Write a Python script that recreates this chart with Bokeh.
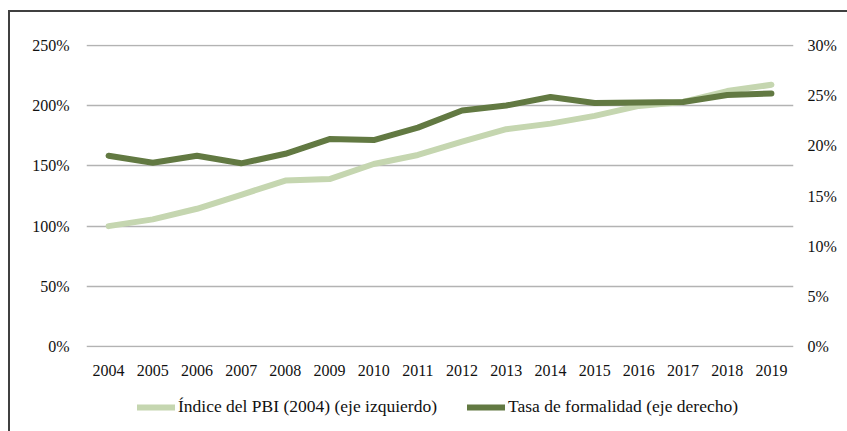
from bokeh.plotting import figure
from bokeh.layouts import column
from bokeh.models import (Range1d, LinearAxis, FixedTicker, PrintfTickFormatter,
                          ColumnDataSource, Legend, LegendItem, FactorRange)
from bokeh.embed import file_html
from bokeh.resources import INLINE

years = [str(y) for y in range(2004, 2020)]
pbi_index = [100, 105.6, 114.4, 126, 137.8, 139, 151.5, 159, 170, 180.4, 185,
             191.4, 199.7, 203, 212, 217.2]
formalidad = [19.0, 18.3, 19.0, 18.25, 19.2, 20.66, 20.56, 21.8, 23.5, 24.0,
              24.85, 24.26, 24.3, 24.36, 25.05, 25.2]
left_ticks = [0, 50, 100, 150, 200, 250]
right_ticks = [0, 5, 10, 15, 20, 25, 30]
label_pbi = "Índice del PBI (2004) (eje izquierdo)"
label_form = "Tasa de formalidad (eje derecho)"

src = ColumnDataSource(dict(year=years, pbi=pbi_index, form=formalidad))

FONT = "Liberation Serif"
LIGHT = "#c5d6b0"
DARK = "#627942"
PAD = 0.6  # small pad so the edge gridlines are not clipped

p = figure(width=837, height=375, x_range=FactorRange(*years, range_padding=0),
           y_range=Range1d(-PAD, 250 + PAD), output_backend="svg",
           toolbar_location=None,
           min_border_left=76, min_border_right=54, min_border_top=32,
           min_border_bottom=40)
p.outline_line_color = None
p.background_fill_color = "white"
p.border_fill_color = "white"

p.extra_y_ranges = {"right": Range1d(-PAD * 30 / 250, 30 + PAD * 30 / 250)}

ya = p.yaxis[0]
ya.ticker = FixedTicker(ticks=left_ticks)
ya.formatter = PrintfTickFormatter(format="%d%%")
xa = p.xaxis[0]
for ax in (ya, xa):
    ax.axis_line_color = None
    ax.major_tick_line_color = None
    ax.minor_tick_line_color = None
    ax.major_label_text_font = FONT
    ax.major_label_text_font_size = "16px"
    ax.major_label_text_color = "#111111"
ya.major_label_standoff = 11
xa.major_label_standoff = 11

ra = LinearAxis(y_range_name="right", ticker=FixedTicker(ticks=right_ticks),
                formatter=PrintfTickFormatter(format="%d%%"))
ra.axis_line_color = None
ra.major_tick_line_color = None
ra.minor_tick_line_color = None
ra.major_label_text_font = FONT
ra.major_label_text_font_size = "16px"
ra.major_label_text_color = "#111111"
ra.major_label_standoff = 8
p.add_layout(ra, "right")

p.xgrid.grid_line_color = None
p.ygrid.grid_line_color = "#b3b3b3"
p.ygrid.grid_line_width = 1.3
p.ygrid.ticker = FixedTicker(ticks=left_ticks)

p.line("year", "pbi", source=src, line_color=LIGHT, line_width=6,
       line_cap="round", line_join="round")
p.line("year", "form", source=src, y_range_name="right", line_color=DARK,
       line_width=6, line_cap="round", line_join="round")

# legend strip below the chart
lg = figure(width=837, height=44, x_range=Range1d(0, 1), y_range=Range1d(0, 1),
            x_axis_type=None, y_axis_type=None, output_backend="svg",
            toolbar_location=None, min_border=0)
lg.outline_line_color = None
lg.xgrid.visible = False
lg.ygrid.visible = False
lsrc = ColumnDataSource(dict(x=[float("nan")], y=[float("nan")]))
d1 = lg.line("x", "y", source=lsrc, line_color=LIGHT, line_width=6, line_cap="round")
d2 = lg.line("x", "y", source=lsrc, line_color=DARK, line_width=6, line_cap="round")

legend = Legend(items=[LegendItem(label=label_pbi, renderers=[d1]),
                       LegendItem(label=label_form, renderers=[d2])],
                orientation="horizontal", location=(51, 14))
legend.border_line_color = None
legend.background_fill_alpha = 0
legend.padding = 0
legend.margin = 0
legend.spacing = 30
legend.label_standoff = 3
legend.glyph_width = 38
legend.glyph_height = 18
legend.label_text_font = FONT
legend.label_text_font_size = "17.5px"
legend.label_text_color = "#111111"
lg.add_layout(legend, "center")

layout = column(p, lg, spacing=0)
layout.styles = {"margin-left": "8px", "margin-top": "10px",
                 "border-left": "2px solid #404040", "border-top": "2px solid #404040"}

open("out.html", "w").write(file_html(layout, INLINE))
